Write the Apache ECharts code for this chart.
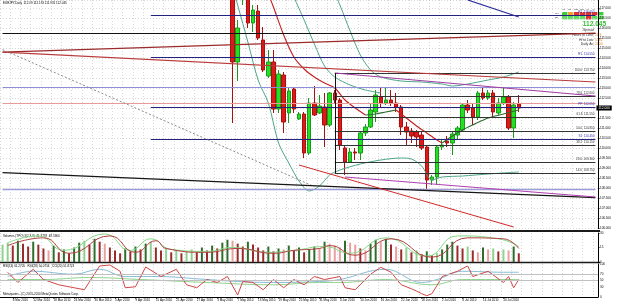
<!DOCTYPE html>
<html>
<head>
<meta charset="utf-8">
<script src="https://cdn.jsdelivr.net/npm/echarts@6/dist/echarts.min.js"></script>
<style>
html, body { margin: 0; padding: 0; background: #fff; }
#container { width: 625px; height: 304px; }
</style>
</head>
<body>
<div id="container"></div>
<script>
// trading days shown on the chart (weekdays), incl. empty space on the right
var tradingDays = {
    Mar: [4,5,8,9,10,11,12,15,16,17,18,19,22,23,24,25,26,29,30,31],
    Apr: [1,2,5,6,7,8,9,12,13,14,15,16,19,20,21,22,23,26,27,28,29,30],
    May: [3,4,5,6,7,10,11,12,13,14,17,18,19,20,21,24,25,26,27,28,31],
    Jun: [1,2,3,4,7,8,9,10,11,14,15,16,17,18,21,22,23,24,25,28,29,30],
    Jul: [1,2,5,6,7,8,9,12,13,14,15,16,19,20,21,22,23,26,27,28,29,30],
    Aug: [2,3,4,5,6,9,10,11,12,13]
};
var dates = [];
Object.keys(tradingDays).forEach(function (m) {
    tradingDays[m].forEach(function (d) { dates.push(d + ' ' + m + ' 2010'); });
});

var tickLabels = ['8 Mar 2010','12 Mar 2010','18 Mar 2010','24 Mar 2010','30 Mar 2010','5 Apr 2010',
    '9 Apr 2010','15 Apr 2010','21 Apr 2010','27 Apr 2010','3 May 2010','7 May 2010','13 May 2010',
    '19 May 2010','25 May 2010','31 May 2010','4 Jun 2010','10 Jun 2010','16 Jun 2010','22 Jun 2010',
    '28 Jun 2010','2 Jul 2010','8 Jul 2010','14 Jul 2010','20 Jul 2010'];

// EURJPY daily candles, from 6 May 2010 to 23 Jul 2010
var firstCandle = '6 May 2010';
var opens  = [118.9,114.3,117.9,117.65,116.25,116.85,115.4,113.6,114.3,111.95,113.65,111.75,112.95,111.45,111.7,109.75,112.25,111.75,112.05,111.15,
              112.75,112.4,110.0,109.3,109.8,109.75,110.75,111.05,111.8,112.55,112.25,112.4,112.25,112.05,111.05,110.85,110.8,110.65,110.05,108.4,
              108.55,110.05,110.35,110.25,110.65,110.9,112.15,112.0,111.55,112.75,112.5,112.75,111.75,112.25,112.55,111.0,112.2];
var closes = [114.3,116.0,119.4,116.25,116.9,115.5,113.9,114.3,111.95,113.7,111.3,112.85,111.95,111.7,109.75,112.25,111.65,112.1,111.15,112.75,
              112.4,110.15,109.3,109.8,109.75,110.75,111.05,111.9,112.65,112.25,112.4,112.25,112.05,111.05,110.8,110.6,110.55,110.0,108.4,108.55,
              110.05,110.15,110.25,110.7,111.0,112.15,111.9,111.55,112.75,112.5,112.75,111.8,112.25,112.55,111.0,112.15,112.0];
var lows   = [111.25,113.35,117.15,116.0,115.8,115.4,113.8,113.5,111.75,111.75,110.75,111.25,111.75,111.4,109.5,109.65,111.6,111.7,110.05,111.05,
              112.2,109.9,108.65,109.25,109.4,109.4,110.6,111.0,111.3,112.05,112.15,112.1,111.8,110.65,110.15,110.25,110.05,109.9,107.95,108.15,
              108.15,109.9,110.05,109.65,110.4,110.8,111.75,111.15,111.4,112.4,112.4,111.55,111.65,112.15,110.9,110.5,111.8];
var highs  = [119.4,116.4,120.15,118.15,117.15,117.15,116.05,114.9,114.9,113.9,113.8,113.0,113.05,111.8,111.8,112.5,113.1,112.65,112.75,112.8,
              112.9,112.5,110.15,110.0,110.0,110.85,111.2,112.25,112.9,113.05,113.0,112.9,112.75,112.15,111.3,111.0,110.9,110.8,110.15,108.65,
              110.15,110.4,110.6,110.8,111.1,112.25,112.4,112.2,112.85,113.0,112.9,112.9,112.5,113.0,112.65,112.3,112.65];
var lastPrice = 112.0;

// indicator lines in the price pane: [bar index, price]
var upperBand = [[64,118.35],[66,117.15],[68,115.85],[70,114.65],[72,113.9],[74,113.55],[78,113.35],[82,113.3],[86,113.2],
                 [88,113.1],[91,113.2],[95,113.4],[98,113.55],[101,113.8]];
var upperBandOld = [[56,118.15],[57,117.55],[59,116.4],[61,115.2],[63,114.1],[65,113.55],[68,113.15],[71,112.9],[74,112.75]];
var lowerBand = [[45,118.1],[46,117.15],[48,115.3],[50,113.4],[52,112.25],[54,110.25],[56,109.25],[58,108.35],[60,107.85],
                 [62,108.1],[64,108.65],[66,108.9],[70,109.2],[74,109.4],[78,109.5],[80,109.45],[82,109.1],[84,108.4],
                 [86,108.55],[90,108.6],[95,108.7],[101,108.8]];
var maFalling = [[52,117.7],[53,117.05],[55,115.65],[57,114.55],[59,113.95],[61,113.55],[63,113.25],[65,113.0],[67,112.4],
                 [69,112.0],[71,111.65],[74,'-'],[77,111.9],[79,111.5],[81,111.1],[83,110.75],[85,110.4],[86,110.25]];
var maRising  = [[71,111.65],[73,111.7],[75,111.8],[77,111.9],[81,'-'],[86,110.25],[88,110.6],[90,110.9],[92,111.15],
                 [95,111.5],[98,111.7],[101,111.9]];

// drawn objects: horizontal levels, fibonacci, trend lines [i0, p0, i1, p1]
var levelPrices = [115.75, 113.05, 112.25, 107.95];
var pivotNames  = ['R2', 'R1', 'PP', 'S1'];
var pivotPrices = [116.65, 114.55, 112.05, 110.45];
var pivotFrom   = '14 Apr 2010';
var fibNames  = ['14.6', '23.6', '38.2', '50.0', '61.8', '78.6', '100.0'];
var fibPrices = [108.75, 109.3, 110.15, 110.85, 111.55, 112.6, 113.75];
var fibFrom   = '3 Jun 2010';
var trendLines = [
    [0, 114.79, 116, 115.74],
    [0, 114.79, 116, 113.3],
    [91, 117.4, 101, 116.55],
    [0, 114.92, 61, 108.07],
    [0, 108.77, 116, 107.52],
    [67, 108.55, 116, 107.55],
    [65, 113.75, 116, 112.6],
    [58, 109.15, 100, 106.05],
    [65, 113.75, 65, 108.75]
];

// volume pane
var volumes = [18,20,17,22,19,16,21,18, 14,12,17,10,13,9, 15,20,22,18,24,21,19, 15,12,9,14,11,16, 13,19,21,15,12,
               14,10,12,9,11,13,10,15,12, 17,14,20,23,22,19,16,21, 18,15,12,16,11,14,13, 17,12,15,10,13,16,14,
               21,19,17,15,22,20,18,14, 12,19,23,21,24,18,16,13,15, 10,12,8,11,7,9,13, 18,21,17,14,16,12,10,15,13,
               14,11,13,12,16,9];
var volSlow = [[1,17],[8,25],[13,9],[21,27],[26,10],[30,22],[32,14],[40,10],[46,14],[53,9],[57,12],[62,14],[64,17],
               [69,7],[76,24],[84,5],[91,25],[98,24],[101,14]];
var volFast = [[1,20],[7,27],[12,12],[20,29],[25,12],[29,24],[33,13],[40,11],[45,15],[52,10],[57,12],[63,16],[68,9],
               [75,25],[83,6],[89,27],[97,24],[101,16]];

// oscillator pane
var rsiFast = [[1,75],[3,44],[6,84],[8,53],[11,37],[13,31],[16,22],[19,94],[21,97],[23,78],[24,28],[26,31],[28,91],[31,62],
               [34,84],[36,37],[38,28],[40,53],[42,44],[44,62],[46,6],[47,47],[49,44],[51,22],[53,53],[55,28],[57,53],[59,37],
               [61,62],[63,53],[66,62],[67,28],[69,22],[72,69],[74,90],[76,75],[78,37],[80,25],[81,18],[82,10],[83,4],[84,10],
               [85,35],[86,62],[89,78],[91,94],[92,62],[95,78],[98,44],[99,62],[100,28],[101,53]];
var rsiSlow = [[1,62],[6,78],[14,69],[19,84],[24,62],[30,62],[40,53],[46,47],[53,44],[62,47],[66,53],[75,84],[82,44],
               [85,53],[90,78],[98,75],[101,75]];
var cciLine = [[1,53],[8,53],[17,59],[27,53],[40,44],[53,37],[62,44],[66,44],[75,53],[84,37],[90,53],[101,53]];

var FONT = 'Liberation Sans';
var lastIdx = dates.length - 1;

var candleData = opens.map(function (o, k) {
    return [dates.indexOf(firstCandle) + k, o, closes[k], lows[k], highs[k]];
});

function seg(i0, p0, i1, p1, style, label) {
    var a = { coord: [i0, p0], lineStyle: Object.assign({ type: 'solid' }, style) };
    if (label) a.label = label;
    return [a, { coord: [i1, p1] }];
}

var marks = [];
var levelStyles = [
    { color: '#111111', width: 1.1 },
    { color: '#8f8fd8', width: 1.1 },
    { color: '#e89a9a', width: 1.1 },
    { color: '#9d9dd8', width: 1.4 }
];
levelPrices.forEach(function (p, n) {
    marks.push(seg(0, p, lastIdx, p, levelStyles[n]));
});
pivotPrices.forEach(function (p, n) {
    marks.push(seg(dates.indexOf(pivotFrom), p, lastIdx, p, { color: '#23237e', width: 1.1 },
        { show: true, position: 'insideEndTop', distance: 1, fontSize: 3, fontFamily: FONT, color: '#3030b0',
          formatter: pivotNames[n] + '  ' + p.toFixed(3) }));
});
fibPrices.forEach(function (p, n) {
    marks.push(seg(dates.indexOf(fibFrom), p, lastIdx, p, { color: '#333333', width: 1 },
        { show: true, position: 'insideEndTop', distance: 1, fontSize: 3, fontFamily: FONT, color: '#333',
          formatter: fibNames[n] + '  ' + p.toFixed(3) }));
});
var trendStyles = [
    { color: '#9c2a2a', width: 1.2 },
    { color: '#b83a3a', width: 1.2 },
    { color: '#2a2a9a', width: 1.2 },
    { color: '#8a8a8a', width: 1, type: [2, 2] },
    { color: '#151515', width: 1.4 },
    { color: '#b040b0', width: 1.2 },
    { color: '#a03ca0', width: 1.2 },
    { color: '#d02828', width: 1 },
    { color: '#111111', width: 1 }
];
trendLines.forEach(function (t, n) {
    marks.push(seg(t[0], t[1], t[2], t[3], trendStyles[n]));
});
marks.push(seg(0, lastPrice, lastIdx, lastPrice, { color: 'rgba(0,0,0,0)', width: 0 },
    { show: true, position: 'end', distance: 1, fontSize: 3.2, fontFamily: FONT, color: '#fff',
      backgroundColor: '#000', padding: [1, 2], formatter: lastPrice.toFixed(3) }));

function volColor(i) {
    var prev = i > 0 ? volumes[i - 1] : volumes[i];
    var d = volumes[i] - prev;
    if (d >= 0) return Math.abs(d) <= 2 ? '#8fd18f' : '#2d6e2d';
    return Math.abs(d) <= 2 ? '#e8a0a0' : '#9a2b2b';
}

function lineSeries(data, xi, color, width, smooth) {
    return {
        type: 'line', xAxisIndex: xi, yAxisIndex: xi, data: data, symbol: 'none',
        smooth: smooth, clip: true, silent: true,
        lineStyle: { color: color, width: width }
    };
}

var gridLine = { color: '#c8c8c8', type: [1, 2], width: 0.7 };
function xAxisFor(gi, showLabels) {
    var isTick = function (idx, val) { return tickLabels.indexOf(val) >= 0; };
    return {
        type: 'category', gridIndex: gi, data: dates, boundaryGap: true,
        axisLine: { show: showLabels, lineStyle: { color: '#000', width: 1 } },
        axisTick: { show: showLabels, interval: isTick, alignWithLabel: true, length: 1.5, lineStyle: { color: '#000' } },
        axisLabel: { show: showLabels, interval: isTick, align: 'left', fontSize: 3, margin: 1.5, color: '#000', fontFamily: FONT },
        splitLine: { show: true, interval: 1, lineStyle: gridLine }
    };
}

// small multi-timeframe table at the top right
var tfNames = ['M1', 'M5', 'M15', 'M30', 'H1', 'H4', 'D1'];
var tfRow1 = ['#3ccc3c', '#f0a030', '#dd3333', '#dd3333', '#dd3333', '#dd3333', '#3ccc3c'];
var tfRow2 = ['#5ddd5d', '#5ddd5d', '#5ddd5d', '#5ddd5d', '#dd3333', '#5ddd5d', '#5ddd5d'];
var graphics = [];
tfNames.forEach(function (n, c) {
    var x = 562 + c * 6;
    graphics.push({ type: 'text', left: x, top: 8.2, style: { text: n, font: '2.2px ' + FONT, fill: '#333' } });
    graphics.push({ type: 'rect', shape: { x: x, y: 12, width: 5.4, height: 3.4 }, style: { fill: tfRow1[c] } });
    graphics.push({ type: 'rect', shape: { x: x, y: 16, width: 5.4, height: 3.4 }, style: { fill: tfRow2[c] } });
});
graphics.push({ type: 'text', x: 555, y: 12.2, style: { text: 'Trd', font: '2.4px ' + FONT, fill: '#333' } });
graphics.push({ type: 'text', x: 555, y: 16.2, style: { text: 'Str', font: '2.4px ' + FONT, fill: '#333' } });
graphics.push({ type: 'text', x: 606, y: 20.5, style: { text: '112.045', font: 'bold 6.5px ' + FONT, fill: '#33c033', align: 'right' } });
var infoNames = ['Spread', 'Hours to Limit:', 'Hi to Low:', 'Daily Av:'];
var infoValues = ['', '11:3', '1382', '2000'];
infoNames.forEach(function (n, r) {
    graphics.push({ type: 'text', x: 594, y: 29 + r * 4.6, style: { text: n, font: '3.4px ' + FONT, fill: '#333', align: 'right' } });
    graphics.push({ type: 'text', x: 595, y: 29 + r * 4.6, style: { text: infoValues[r], font: '3.4px ' + FONT, fill: '#e08a20' } });
});
graphics.push({ type: 'text', x: 3, y: 2, style: { text: 'EURJPY,Daily  112.09 112.163 111.931 112.045', font: '3px ' + FONT, fill: '#000' } });
graphics.push({ type: 'line', shape: { x1: 0, y1: 231, x2: 600, y2: 231 }, style: { stroke: '#1a1a1a', lineWidth: 2 } });
graphics.push({ type: 'line', shape: { x1: 0, y1: 262.5, x2: 600, y2: 262.5 }, style: { stroke: '#1a1a1a', lineWidth: 1.4 } });
graphics.push({ type: 'text', x: 3, y: 234.5, style: { text: 'Volumes (TPO) 3(2,3,3)  41.3778  48.5960', font: '3px ' + FONT, fill: '#000' } });
graphics.push({ type: 'text', x: 3, y: 264.5, style: { text: 'RSI(14) 61.2705   RSI(28) 54.0754   CCI(20) 51.8723', font: '3px ' + FONT, fill: '#000' } });
graphics.push({ type: 'text', x: 3, y: 293, style: { text: 'Metaquotes - (C) 2001-2010 MetaQuotes Software Corp.', font: '3px ' + FONT, fill: '#000' } });

var dom = document.getElementById('container');
var myChart = echarts.init(dom);
var option = {
    animation: false,
    backgroundColor: '#ffffff',
    textStyle: { fontFamily: FONT },
    grid: [
        { left: -10, right: 27, top: 0, height: 228 },
        { left: -10, right: 27, top: 233, height: 29 },
        { left: -10, right: 27, top: 264, height: 33 }
    ],
    xAxis: [xAxisFor(0, false), xAxisFor(1, false), xAxisFor(2, true)],
    yAxis: [
        {
            type: 'value', gridIndex: 0, position: 'right', min: 106, max: 117.4, interval: 0.5,
            axisLine: { show: true, lineStyle: { color: '#000' } },
            axisTick: { show: true, length: 1.5, lineStyle: { color: '#000' } },
            axisLabel: { fontSize: 3, margin: 2, color: '#000', showMaxLabel: false,
                         formatter: function (v) { return v.toFixed(3); } },
            splitLine: { show: true, lineStyle: gridLine }
        },
        {
            type: 'value', gridIndex: 1, position: 'right', min: 0, max: 30, interval: 15,
            axisLine: { show: true, lineStyle: { color: '#000' } },
            axisTick: { show: true, length: 1.5 },
            axisLabel: { fontSize: 3, margin: 2, color: '#000' },
            splitLine: { show: false }
        },
        {
            type: 'value', gridIndex: 2, position: 'right', min: 0, max: 100, interval: 10,
            axisLine: { show: true, lineStyle: { color: '#000' } },
            axisTick: { show: false },
            axisLabel: { fontSize: 3, margin: 2, color: '#000',
                         formatter: function (v) { return [0, 30, 50, 70, 100].indexOf(v) >= 0 ? String(v) : ''; } },
            splitLine: { show: false }
        }
    ],
    graphic: graphics,
    series: [
        {
            type: 'candlestick', xAxisIndex: 0, yAxisIndex: 0, data: candleData,
            encode: { x: 0, y: [1, 2, 3, 4] },
            barWidth: 4, clip: true, silent: true,
            itemStyle: { color: '#22e022', color0: '#dc1a1a', borderColor: '#1a9a1a', borderColor0: '#a81010', borderWidth: 1 },
            markLine: { symbol: ['none', 'none'], silent: true, animation: false, label: { show: false },
                        lineStyle: { type: 'solid' }, data: marks }
        },
        lineSeries(lowerBand, 0, '#4fa58a', 1, 0.3),
        lineSeries(upperBand, 0, '#4fa58a', 1, 0.3),
        lineSeries(upperBandOld, 0, '#4fa58a', 1, 0.3),
        lineSeries(maFalling, 0, '#c41e1e', 1.1, 0.3),
        lineSeries(maRising, 0, '#2f6a2f', 1.1, 0.3),
        {
            type: 'bar', xAxisIndex: 1, yAxisIndex: 1, barWidth: 2, silent: true,
            data: volumes.map(function (v, i) { return { value: v, itemStyle: { color: volColor(i) } }; })
        },
        lineSeries(volFast, 1, '#86d886', 1, 0.5),
        lineSeries(volSlow, 1, '#b04040', 1, 0.5),
        Object.assign(lineSeries(rsiSlow, 2, '#86bcd6', 1, 0.4), {
            markLine: {
                symbol: ['none', 'none'], silent: true, label: { show: false },
                lineStyle: { color: '#c0c0c0', type: 'solid', width: 1 },
                data: [{ yAxis: 70 }, { yAxis: 50 }]
            }
        }),
        lineSeries(cciLine, 2, '#8fd48f', 1, 0.4),
        lineSeries(rsiFast, 2, '#d04848', 1, false)
    ]
};
if (option && typeof option === 'object') {
    myChart.setOption(option, true);
}
</script>
</body>
</html>
